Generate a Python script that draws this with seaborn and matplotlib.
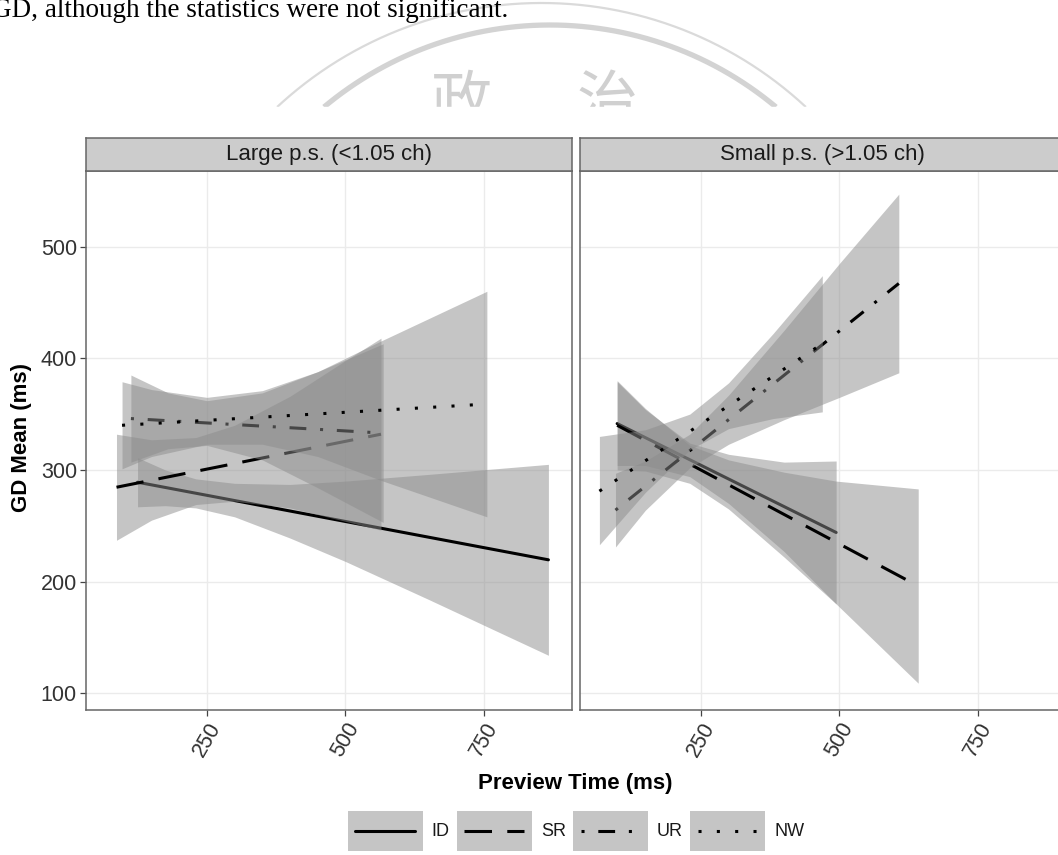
import numpy as np
import pandas as pd
import matplotlib
matplotlib.use("Agg")
import matplotlib.pyplot as plt
import seaborn as sns
from matplotlib.patches import Rectangle
from matplotlib.lines import Line2D

sns.set_theme(style="white")
plt.rcParams['font.family'] = ['Liberation Sans', 'DejaVu Sans']

# ---------------- data ----------------
facets = ["Large p.s. (<1.05 ch)", "Small p.s. (>1.05 ch)"]
conditions = ["ID", "SR", "UR", "NW"]
x_ticks = [250, 500, 750]
y_ticks = [100, 200, 300, 400, 500]

# Large p.s. panel: fitted lines (x, y) and confidence bands (x, lower, upper)
L_ID_x = [125, 866]
L_ID_y = [289, 219.5]
L_ID_bx = [125, 175, 230, 300, 400, 500, 650, 866]
L_ID_lo = [267, 268, 266, 258, 239, 218, 184, 134]
L_ID_hi = [311, 300, 292, 288, 287, 290, 296, 305]

L_SR_x = [87, 564]
L_SR_y = [284.5, 332]
L_SR_bx = [87, 150, 230, 300, 400, 500, 564]
L_SR_lo = [237, 255, 269, 272, 266, 254, 246]
L_SR_hi = [332, 327, 329, 340, 366, 398, 418]

L_UR_x = [113, 568]
L_UR_y = [346, 333]
L_UR_bx = [113, 180, 250, 350, 450, 568]
L_UR_lo = [307, 319, 322, 309, 284, 253]
L_UR_hi = [385, 369, 362, 369, 388, 413]

L_NW_x = [97, 755]
L_NW_y = [340, 359]
L_NW_bx = [97, 150, 250, 350, 450, 562, 755]
L_NW_lo = [301, 312, 323, 323, 312, 291, 258]
L_NW_hi = [379, 372, 365, 371, 388, 415, 460]

# Small p.s. panel
S_ID_x = [99, 494]
S_ID_y = [341.5, 244]
S_ID_bx = [99, 150, 230, 300, 400, 494]
S_ID_lo = [304, 304, 294, 270, 227, 180]
S_ID_hi = [379, 354, 324, 314, 307, 308]

S_SR_x = [99, 642]
S_SR_y = [340, 196]
S_SR_bx = [99, 150, 230, 300, 400, 494, 642]
S_SR_lo = [300, 299, 288, 265, 222, 180, 109]
S_SR_hi = [380, 355, 322, 309, 298, 290, 283]

S_UR_x = [96, 607]
S_UR_y = [264, 467]
S_UR_bx = [96, 150, 230, 300, 400, 500, 607]
S_UR_lo = [231, 264, 302, 323, 345, 365, 387]
S_UR_hi = [297, 308, 332, 367, 425, 485, 547]

S_NW_x = [67, 469]
S_NW_y = [281, 413]
S_NW_bx = [67, 150, 230, 300, 380, 469]
S_NW_lo = [233, 280, 318, 337, 346, 352]
S_NW_hi = [330, 336, 350, 378, 422, 474]

series = {
    facets[0]: {
        "ID": (L_ID_x, L_ID_y, L_ID_bx, L_ID_lo, L_ID_hi),
        "SR": (L_SR_x, L_SR_y, L_SR_bx, L_SR_lo, L_SR_hi),
        "UR": (L_UR_x, L_UR_y, L_UR_bx, L_UR_lo, L_UR_hi),
        "NW": (L_NW_x, L_NW_y, L_NW_bx, L_NW_lo, L_NW_hi),
    },
    facets[1]: {
        "ID": (S_ID_x, S_ID_y, S_ID_bx, S_ID_lo, S_ID_hi),
        "SR": (S_SR_x, S_SR_y, S_SR_bx, S_SR_lo, S_SR_hi),
        "UR": (S_UR_x, S_UR_y, S_UR_bx, S_UR_lo, S_UR_hi),
        "NW": (S_NW_x, S_NW_y, S_NW_bx, S_NW_lo, S_NW_hi),
    },
}

# ---------------- styles ----------------
W, H = 1058, 855
RIB = "#8c8c8c"
RIB_A = 0.5
LW = 2.2
DASH = {
    "ID": "-",
    "SR": (0, (9, 5)),
    "UR": (0, (1, 4.5, 5.5, 4.5)),
    "NW": (0, (1, 5)),
}
TICK_COL = "#333333"
BORDER = "#666666"
TICK_FS = 15.5
STRIP_FS = 16
TITLE_FS = 16

fig = plt.figure(figsize=(W / 100, H / 100), dpi=100)
fig.patch.set_facecolor("white")

# --- background page elements (text line and watermark) ---
bg = fig.add_axes([0, 0, 1, 1], zorder=-5)
bg.set_xlim(0, W)
bg.set_ylim(H, 0)
bg.axis("off")
for (cx, cy, R, lw, col) in [(541.5, 391, 388, 1.6, "#dadada"), (550, 377.4, 352.4, 3.8, "#d3d3d3")]:
    t0 = np.arcsin((cy - 107) / R)
    t = np.linspace(t0, np.pi - t0, 300)
    bg.plot(cx + R * np.cos(t), cy - R * np.sin(t), color=col, lw=lw, solid_capstyle="butt")
bg.text(462, 72, "政", ha="center", va="top", fontsize=44, color="#d0d0d0",
        family=["Noto Sans CJK TC", "DejaVu Sans"])
bg.text(607, 72, "治", ha="center", va="top", fontsize=44, color="#d0d0d0",
        family=["Noto Sans CJK TC", "DejaVu Sans"])
bg.add_patch(Rectangle((0, 107), W, H - 107, color="white", zorder=10))
fig.text(-8 / W, 1 - 17 / H, "GD, although the statistics were not significant.",
         family=["Liberation Serif", "DejaVu Serif"], fontsize=19.5, va="baseline", ha="left",
         color="black")

# --- panels ---
ax_y0 = 710
ax_y1 = 170.7
ax_h = (ax_y0 - ax_y1) / H
ax_w = 485.7 / W
lefts = [86, 580]
for i, facet in enumerate(facets):
    ax = fig.add_axes([lefts[i] / W, (H - ax_y0) / H, ax_w, ax_h])
    ax.set_facecolor("white")

    z = 2
    for cond in conditions:
        lx, ly, bx, lo, hi = series[facet][cond]
        ax.fill_between(bx, lo, hi, color=RIB, alpha=RIB_A, lw=0, zorder=z)
        sns.lineplot(x=lx, y=ly, ax=ax, color="black", linewidth=LW,
                     linestyle=DASH[cond], estimator=None, legend=False, zorder=z + 1)
        z += 2

    ax.set_xlim(32, 908)
    ax.set_ylim(85, 568)
    ax.set_xticks(x_ticks)
    ax.set_yticks(y_ticks)
    ax.grid(True, color="#ebebeb", lw=1.0)
    ax.set_axisbelow(True)
    for sp in ax.spines.values():
        sp.set_color(BORDER)
        sp.set_linewidth(1.1)
    ax.tick_params(axis="both", direction="out", length=4, width=0.9, color="#444444",
                   labelsize=TICK_FS, labelcolor=TICK_COL, bottom=True, left=(i == 0), pad=2.5)
    ax.set_xticklabels([str(v) for v in x_ticks], rotation=60, ha="center", va="top")
    if i == 0:
        ax.set_yticklabels([str(v) for v in y_ticks])
    else:
        ax.set_yticklabels([])
    ax.set_xlabel("")
    ax.set_ylabel("")

    # strip
    sax = fig.add_axes([lefts[i] / W, (H - ax_y1) / H, ax_w, 32.4 / H])
    sax.set_facecolor("#cccccc")
    sax.set_xticks([])
    sax.set_yticks([])
    for sp in sax.spines.values():
        sp.set_color(BORDER)
        sp.set_linewidth(1.1)
    sax.text(0.5, 0.5, facet, ha="center", va="center", fontsize=STRIP_FS, color="#1a1a1a",
             transform=sax.transAxes)

# axis titles
fig.text(575 / W, 1 - 783 / H, "Preview Time (ms)", ha="center", va="center",
         fontsize=TITLE_FS, fontweight="bold", color="black")
fig.text(22 / W, 1 - 437 / H, "GD Mean (ms)", ha="center", va="center", rotation=90,
         fontsize=TITLE_FS, fontweight="bold", color="black")


# legend with grey key boxes (ribbon fill) and centred line
class KeyHandler:
    def legend_artist(self, legend, orig_handle, fontsize, handlebox):
        x0, y0 = handlebox.xdescent, handlebox.ydescent
        w, h = handlebox.width, handlebox.height
        tr = handlebox.get_transform()
        rect = Rectangle((-x0, -y0), w, h, facecolor=RIB, alpha=RIB_A,
                         edgecolor="none", transform=tr)
        cond = orig_handle.get_label()
        yc = -y0 + h / 2
        line = Line2D([-x0 + 0.1 * w, -x0 + 0.9 * w], [yc, yc], color="black", lw=LW,
                      linestyle=DASH[cond], transform=tr)
        handlebox.add_artist(rect)
        handlebox.add_artist(line)
        return rect


handles = [Line2D([0], [0], color="black", label=c) for c in conditions]
fig.legend(handles=handles, labels=conditions, handler_map={Line2D: KeyHandler()},
           ncol=4, loc="center", bbox_to_anchor=(576 / W, 1 - 831 / H), frameon=False,
           fontsize=13, handlelength=4.15, handleheight=3.0, handletextpad=0.5,
           columnspacing=0.4, borderpad=0, labelcolor="#1a1a1a")

fig.savefig("out.png", dpi=100, facecolor="white")
